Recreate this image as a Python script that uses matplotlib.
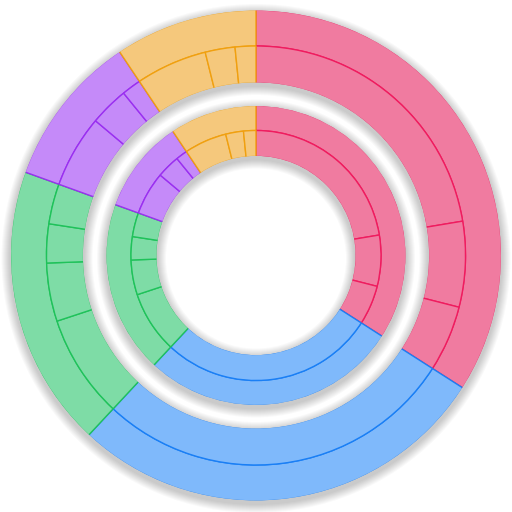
import matplotlib
matplotlib.use("Agg")
import matplotlib.pyplot as plt
from matplotlib.patches import Wedge

# Category data (top level) and their sub-items (values in share of the circle)
categories = ["Pink", "Blue", "Green", "Purple", "Yellow"]
children = {
    "Pink": [22.4, 6.6, 5.1],
    "Blue": [27.9],
    "Green": [8.0, 4.5, 3.0, 3.1],
    "Purple": [5.6, 3.0, 1.5],
    "Yellow": [5.5, 2.3, 1.6],
}
parent_values = [sum(children[c]) for c in categories]

fill_colors = {
    "Pink": "#f07ba0",
    "Blue": "#7fb9fb",
    "Green": "#7edca6",
    "Purple": "#c58af9",
    "Yellow": "#f5c87c",
}
edge_colors = {
    "Pink": "#ef1c5f",
    "Blue": "#1a7ff5",
    "Green": "#1fc25a",
    "Purple": "#9a2ff0",
    "Yellow": "#f0a010",
}

fig = plt.figure(figsize=(5.12, 5.12), dpi=100)
ax = fig.add_axes([0, 0, 1, 1])

center = (256, 256.5)
# (outer radius, mid radius, inner radius) for each donut
donuts = [(245.5, 209.5, 172.5), (150.0, 125.0, 99.0)]

# soft drop shadow
for (r_out, r_mid, r_in) in donuts:
    for d in range(1, 10):
        ax.add_patch(Wedge((center[0], center[1] - 3), r_out + d, 0, 360,
                           width=(r_out - r_in) + 2 * d,
                           facecolor="black", edgecolor="none",
                           alpha=0.022, zorder=1))

for (r_out, r_mid, r_in) in donuts:
    clip = Wedge(center, r_out - 0.6, 0, 360, width=(r_out - r_in) - 1.2)
    clip.set_transform(ax.transData)
    # outer ring: top-level categories
    wedges, _ = ax.pie(parent_values, radius=r_out, center=center,
                       startangle=90, counterclock=False,
                       colors=[fill_colors[c] for c in categories],
                       wedgeprops=dict(width=r_out - r_mid, linewidth=1.0))
    for w, c in zip(wedges, categories):
        w.set_edgecolor(edge_colors[c])
        w.set_zorder(3)
        w.set_clip_on(True)
        w.set_clip_path(clip)
    # inner ring: sub-items
    sub_vals, sub_fill, sub_edge = [], [], []
    for c in categories:
        for v in children[c]:
            sub_vals.append(v)
            sub_fill.append(fill_colors[c])
            sub_edge.append(edge_colors[c])
    wedges, _ = ax.pie(sub_vals, radius=r_mid, center=center,
                       startangle=90, counterclock=False,
                       colors=sub_fill,
                       wedgeprops=dict(width=r_mid - r_in, linewidth=1.0))
    for w, e in zip(wedges, sub_edge):
        w.set_edgecolor(e)
        w.set_zorder(3)
        w.set_clip_on(True)
        w.set_clip_path(clip)

ax.set_xlim(0, 512)
ax.set_ylim(0, 512)
ax.set_aspect("equal")
ax.axis("off")

fig.savefig("out.png", dpi=100, facecolor="white")
